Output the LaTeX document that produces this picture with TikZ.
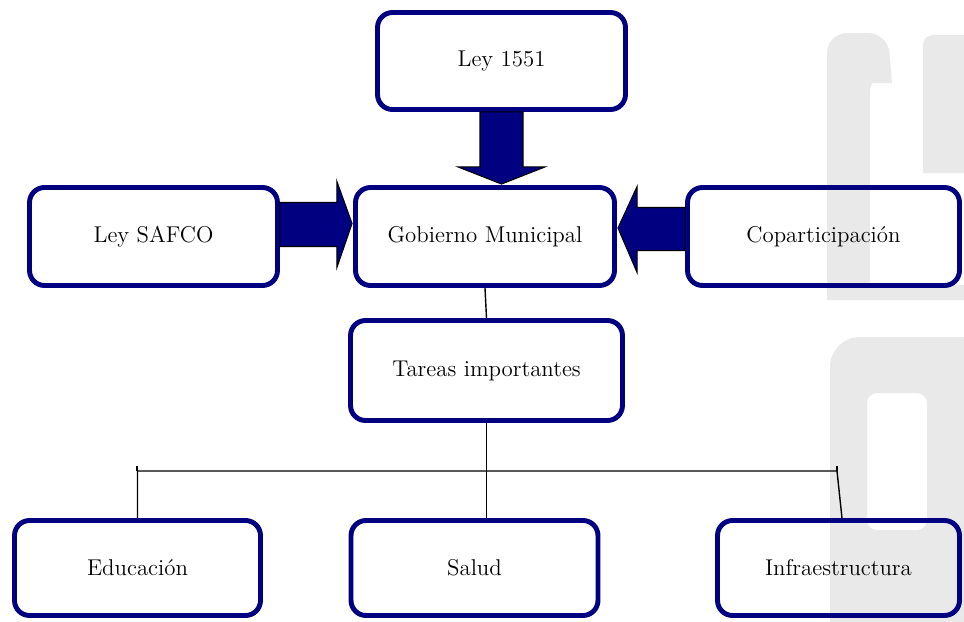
\documentclass[tikz,border=0pt]{standalone}
\usetikzlibrary{calc}
\definecolor{navy}{RGB}{0,0,128}
\definecolor{wmark}{RGB}{233,233,233}
\begin{document}
\begin{tikzpicture}[x=0.02cm,y=-0.02cm,
  box/.style={draw=navy, line width=2.8pt, rounded corners=0.3cm, align=center,
    font=\fontsize{13}{15}\selectfont, inner sep=0pt},
  barrow/.style={draw=black, line width=0.6pt, fill=navy, line join=miter},
  conn/.style={draw=black, line width=0.8pt}]
\useasboundingbox (0,0) rectangle (964,622);
% watermark
\fill[wmark] (827,300) -- (827,60) [rounded corners=0.4cm] -- (827,33) -- (888,33) [sharp corners] -- (892,83) -- (872,83) -- (870,90) -- (870,285) -- (975,285) -- (975,300) -- cycle;
\fill[wmark, rounded corners=0.2cm] (923,173) -- (923,35) -- (975,35) [sharp corners] -- (975,173) -- cycle;
\fill[wmark, even odd rule] [rounded corners=0.6cm] (830,337) rectangle (990,650) [rounded corners=0.2cm] (867,393) rectangle (927,530);
% boxes
\node[box, minimum width=4.96cm, minimum height=1.94cm] (l1551) at (501.5,61) {Ley 1551};
\node[box, minimum width=4.96cm, minimum height=1.96cm] (safco) at (153.5,236.5) {Ley SAFCO};
\node[box, minimum width=5.18cm, minimum height=1.96cm] (gob) at (485,236.5) {Gobierno Municipal};
\node[box, minimum width=5.44cm, minimum height=1.96cm] (copa) at (823.5,236.5) {Coparticipación};
\node[box, minimum width=5.44cm, minimum height=2.0cm] (tareas) at (486.5,370.5) {Tareas importantes};
\node[box, minimum width=4.92cm, minimum height=1.9cm] (edu) at (137.5,568) {Educación};
\node[box, minimum width=4.94cm, minimum height=1.9cm] (salud) at (474.5,568) {Salud};
\node[box, minimum width=4.84cm, minimum height=1.9cm] (infra) at (838.5,568) {Infraestructura};
% block arrows
\draw[barrow] ($(l1551.south)+(-21.5,0)$) -- ++(0,55) -- ++(-22,0) -- ($(l1551.south |- gob.north)+(0,-1)$) -- ($(l1551.south)+(43.5,55)$) -- ++(-22,0) -- ++(0,-55) -- cycle;
\draw[barrow] ($(safco.east)+(0,-34)$) -- ++(57,0) -- ++(0,-21) -- ($(gob.west)+(-1,-13)$) -- ($(safco.east)+(57,31)$) -- ++(0,-21) -- ++(-57,0) -- cycle;
\draw[barrow] ($(copa.west)+(0,-29)$) -- ++(-48,0) -- ++(0,-21) -- ($(gob.east)+(1,-8.5)$) -- ($(copa.west)+(-48,36)$) -- ++(0,-22) -- ++(48,0) -- cycle;
% connectors
\coordinate (bl) at (137,471);
\coordinate (br) at (837,471);
\draw[conn] (gob.south) -- (tareas.north);
\draw[conn] (tareas.south) -- (tareas.south |- salud.north);
\draw[conn] (edu.north) -- (edu.north |- bl) -- (br) -- ($(infra.north)+(3.5,0)$);
\draw[conn] (bl) -- ++(0,-5);
\draw[conn] (br) -- ++(0,-5);
\end{tikzpicture}
\end{document}
